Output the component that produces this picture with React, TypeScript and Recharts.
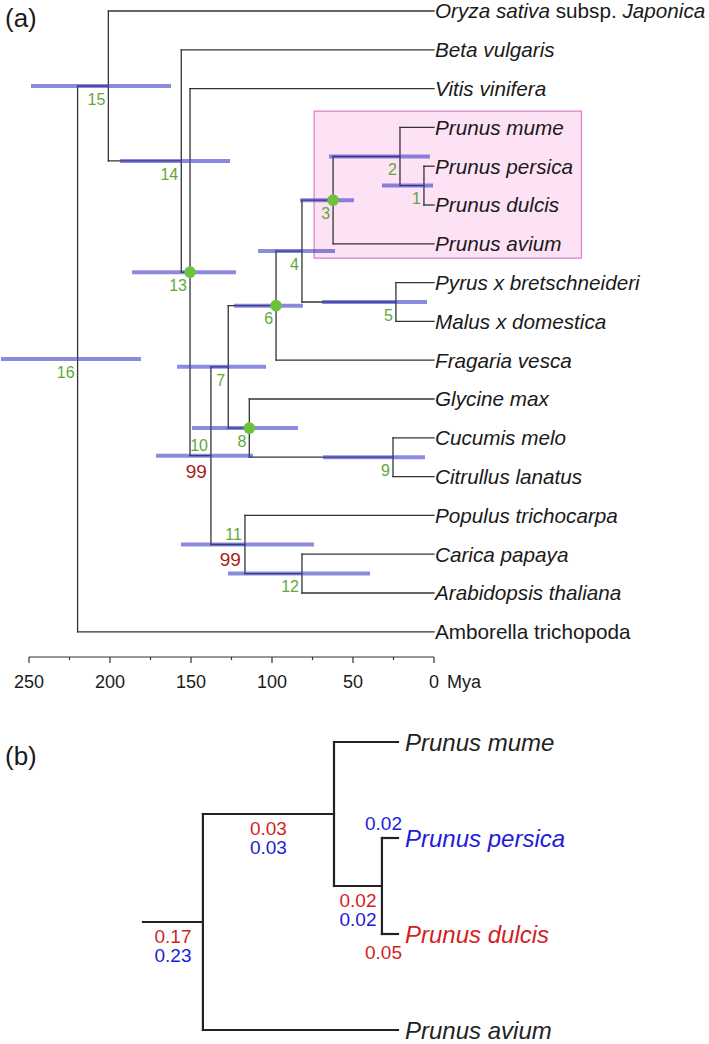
import React from "react";
import {
  ComposedChart, ReferenceArea, ReferenceLine, Scatter, XAxis, YAxis,
} from "recharts";

const FONT = "'Liberation Sans', Arial, Helvetica, sans-serif";

// ---- (a) dated tree ----
const tipNames = [
  "Oryza sativa subsp. Japonica", "Beta vulgaris", "Vitis vinifera",
  "Prunus mume", "Prunus persica", "Prunus dulcis", "Prunus avium",
  "Pyrus x bretschneideri", "Malus x domestica", "Fragaria vesca",
  "Glycine max", "Cucumis melo", "Citrullus lanatus", "Populus trichocarpa",
  "Carica papaya", "Arabidopsis thaliana", "Amborella trichopoda",
];
const uprightTips = ["Amborella trichopoda"];

const nodeIds = [1, 2, 3, 4, 5, 6, 7, 8, 9, 10, 11, 12, 13, 14, 15, 16];
const nodeAge = [6.2, 21, 62.3, 81.5, 23.5, 97.5, 127, 114, 25.3, 137.7, 116.7, 81.5, 150.6, 156, 201, 220];
const hpdOld = [32.1, 64.8, 82.7, 108.6, 69.1, 123.5, 158.6, 149.4, 68.5, 171.6, 156.2, 127.2, 186.4, 193.8, 248.8, 267.3];
const hpdYoung = [0.6, 2.5, 49.4, 61.1, 4.3, 80.9, 103.7, 84, 5.6, 111.7, 74.1, 39.5, 122.2, 125.9, 162.3, 180.9];
const nodeChildren: [string, string][] = [
  ["t4", "t5"], ["t3", "n1"], ["n2", "t6"], ["n3", "n5"], ["t7", "t8"], ["n4", "t9"],
  ["n6", "n8"], ["t10", "n9"], ["t11", "t12"], ["n7", "n11"], ["t13", "n12"], ["t14", "t15"],
  ["t2", "n10"], ["t1", "n13"], ["t0", "n14"], ["n15", "t16"],
];
const calibratedNodes = [3, 6, 8, 13];
const supportNodes = [10, 11];
const supportValues = [99, 99];
const ageTicks = [250, 225, 200, 175, 150, 125, 100, 75, 50, 25, 0];
const cladeAges = [74, -91];
const cladeRows = [2.58, 6.37];

// ---- (b) Prunus subtree ----
const bTipNames = ["Prunus mume", "Prunus persica", "Prunus dulcis", "Prunus avium"];
const bTipColors = ["#222", "#1c1cd8", "#d21f1f", "#222"];
const bNodeDepth = [0.235, 0.749, 0.937]; // m1 (root node), m2, m3
const bChildren: [string, string][] = [["m2", "t3"], ["t0", "m3"], ["t1", "t2"]];
const bRedLengths = [
  { branch: "stem", value: 0.17 }, { branch: "m2", value: 0.03 },
  { branch: "m3", value: 0.02 }, { branch: "t2", value: 0.05 },
];
const bBlueLengths = [
  { branch: "stem", value: 0.23 }, { branch: "m2", value: 0.03 },
  { branch: "m3", value: 0.02 }, { branch: "t1", value: 0.02 },
];

const RED = "#d21f1f";
const BLUE = "#1c1cd8";
const GREEN = "#5fa83a";

type Seg = { x1: number; y1: number; x2: number; y2: number };

function rowOf(ref: string): number {
  const n = Number(ref.slice(1));
  if (ref[0] === "t") return n;
  const [a, b] = nodeChildren[n - 1];
  return (rowOf(a) + rowOf(b)) / 2;
}
const ageOf = (ref: string) => (ref[0] === "t" ? 0 : nodeAge[Number(ref.slice(1)) - 1]);

const branchSegs: Seg[] = [];
nodeIds.forEach((id, i) => {
  const [a, b] = nodeChildren[i];
  branchSegs.push({ x1: nodeAge[i], y1: rowOf(a), x2: nodeAge[i], y2: rowOf(b) });
  [a, b].forEach((c) => branchSegs.push({ x1: nodeAge[i], y1: rowOf(c), x2: ageOf(c), y2: rowOf(c) }));
});

const tipLabelData = tipNames.map((name, i) => ({ x: 0, y: i, name }));
const nodeLabelData = nodeIds.map((id, i) => {
  const s = supportNodes.indexOf(id);
  return { x: nodeAge[i], y: rowOf("n" + id), id, support: s >= 0 ? supportValues[s] : null };
});
const dotData = calibratedNodes.map((id) => ({ x: nodeAge[id - 1], y: rowOf("n" + id) }));

function bRow(ref: string): number {
  const n = Number(ref.slice(1));
  if (ref[0] === "t") return n;
  const [a, b] = bChildren[n - 1];
  return (bRow(a) + bRow(b)) / 2;
}
const bDepth = (ref: string) => (ref[0] === "t" ? 1 : bNodeDepth[Number(ref.slice(1)) - 1]);
function bParent(ref: string): number {
  if (ref === "stem") return 0;
  const idx = bChildren.findIndex((c) => c.includes(ref));
  return bNodeDepth[idx];
}

const bSegs: Seg[] = [{ x1: 0, y1: bRow("m1"), x2: bNodeDepth[0], y2: bRow("m1") }];
bChildren.forEach(([a, b], i) => {
  const d = bNodeDepth[i];
  bSegs.push({ x1: d, y1: bRow(a), x2: d, y2: bRow(b) });
  [a, b].forEach((c) => bSegs.push({ x1: d, y1: bRow(c), x2: bDepth(c), y2: bRow(c) }));
});

const bTipData = bTipNames.map((name, i) => ({ x: 1, y: i, name, color: bTipColors[i] }));
const bLenData = [
  ...bRedLengths.map((l) => ({ ...l, color: RED })),
  ...bBlueLengths.map((l) => ({ ...l, color: BLUE })),
].map((l) => {
  const node = l.branch === "stem" ? "m1" : l.branch;
  const start = bParent(l.branch);
  const end = l.branch === "stem" ? bNodeDepth[0] : bDepth(node);
  const isTip = node[0] === "t";
  return { x: isTip ? end : (start + end) / 2, y: bRow(node), label: l.value.toFixed(2), color: l.color, isTip };
});

function AgeTick(props: any) {
  const { x, y, payload } = props;
  const v = payload.value as number;
  const major = v % 50 === 0;
  return (
    <g>
      <line x1={x} x2={x} y1={y} y2={y + (major ? 6 : 3)} stroke="#333" strokeWidth={1.2} />
      {major && (
        <text x={x} y={y + 31} textAnchor="middle" fontSize={18} fill="#1a1a1a" fontFamily={FONT}>{v}</text>
      )}
      {v === 0 && (
        <text x={x + 13} y={y + 31} textAnchor="start" fontSize={18} fill="#1a1a1a" fontFamily={FONT}>Mya</text>
      )}
    </g>
  );
}

function TipLabel(props: any) {
  const { cx, cy, payload } = props;
  const name: string = payload.name;
  const parts = name.split(" subsp. ");
  const italic = !uprightTips.includes(name);
  return (
    <text x={cx + 1} y={cy} dy="0.36em" fontSize={20.7} fill="#1a1a1a" fontFamily={FONT}
      style={{ whiteSpace: "pre" }} fontStyle={italic && parts.length === 1 ? "italic" : "normal"}>
      {parts.length === 2 ? (
        <>
          <tspan fontStyle="italic">{parts[0]}</tspan>
          <tspan> subsp. </tspan>
          <tspan fontStyle="italic">{parts[1]}</tspan>
        </>
      ) : name}
    </text>
  );
}

function NodeLabel(props: any) {
  const { cx, cy, payload } = props;
  const above = payload.support != null;
  return (
    <g fontFamily={FONT}>
      <text x={cx - 3} y={above ? cy - 10 : cy + 13} dy="0.36em" textAnchor="end" fontSize={16} fill={GREEN}>
        {payload.id}
      </text>
      {above && (
        <text x={cx - 4} y={cy + 15} dy="0.36em" textAnchor="end" fontSize={19} fill="#a81c1c">
          {payload.support}
        </text>
      )}
    </g>
  );
}

function Dot(props: any) {
  return <circle cx={props.cx} cy={props.cy} r={5.8} fill="#6cc23a" />;
}

function BTipLabel(props: any) {
  const { cx, cy, payload } = props;
  return (
    <text x={cx + 7} y={cy} dy="0.36em" fontSize={24} fontStyle="italic" fill={payload.color} fontFamily={FONT}>
      {payload.name}
    </text>
  );
}

function BLenLabel(props: any) {
  const { cx, cy, payload } = props;
  if (payload.isTip) {
    const up = payload.color === BLUE;
    return (
      <text x={cx + 4} y={up ? cy - 15 : cy + 18} dy="0.36em" textAnchor="end" fontSize={19}
        fill={payload.color} fontFamily={FONT}>{payload.label}</text>
    );
  }
  return (
    <text x={cx} y={payload.color === RED ? cy + 14 : cy + 33} dy="0.36em" textAnchor="middle" fontSize={19}
      fill={payload.color} fontFamily={FONT}>{payload.label}</text>
  );
}

const panelLabel = (top: number): React.CSSProperties => ({
  position: "absolute", left: 5, top, fontSize: 26, lineHeight: "26px", fontFamily: FONT, color: "#1a1a1a",
});

export default function App() {
  return (
    <div style={{ position: "absolute", left: 0, top: 0, width: 709, height: 1044, background: "#fff", fontFamily: FONT }}>
      <div style={{ position: "absolute", left: 0, top: 0 }}>
        <ComposedChart width={709} height={700} margin={{ top: 11, right: 275, bottom: 0, left: 29 }}>
          <XAxis type="number" dataKey="x" domain={[0, 250]} reversed ticks={ageTicks}
            interval={0} height={43} tickSize={0} tickMargin={0} tickLine={false}
            axisLine={{ stroke: "#333", strokeWidth: 1.2 }} tick={AgeTick} />
          <YAxis type="number" dataKey="y" domain={[0, 16.65]} reversed hide />
          <ReferenceArea x1={cladeAges[0]} x2={cladeAges[1]} y1={cladeRows[0]} y2={cladeRows[1]}
            ifOverflow="visible" fill="#fde2f6" fillOpacity={1} stroke="#d67fd0" strokeWidth={1.2} />
          {branchSegs.map((s, i) => (
            <ReferenceLine key={"b" + i} ifOverflow="visible" stroke="#333" strokeWidth={1.3} strokeLinecap="square"
              segment={[{ x: s.x1, y: s.y1 }, { x: s.x2, y: s.y2 }]} />
          ))}
          {nodeIds.map((id, i) => (
            <ReferenceLine key={"h" + id} ifOverflow="visible" stroke="#3c3ec5" strokeOpacity={0.6} strokeWidth={4}
              segment={[{ x: hpdOld[i], y: rowOf("n" + id) }, { x: hpdYoung[i], y: rowOf("n" + id) }]} />
          ))}
          <Scatter data={dotData} shape={Dot} isAnimationActive={false} />
          <Scatter data={nodeLabelData} shape={NodeLabel} isAnimationActive={false} />
          <Scatter data={tipLabelData} shape={TipLabel} isAnimationActive={false} />
        </ComposedChart>
      </div>
      <div style={panelLabel(5)}>(a)</div>

      <div style={{ position: "absolute", left: 0, top: 700 }}>
        <ComposedChart width={709} height={344} margin={{ top: 42, right: 311, bottom: 14, left: 143 }}>
          <XAxis type="number" dataKey="x" domain={[0, 1]} hide />
          <YAxis type="number" dataKey="y" domain={[0, 3]} reversed hide />
          {bSegs.map((s, i) => (
            <ReferenceLine key={"s" + i} ifOverflow="visible" stroke="#222" strokeWidth={2.2} strokeLinecap="square"
              segment={[{ x: s.x1, y: s.y1 }, { x: s.x2, y: s.y2 }]} />
          ))}
          <Scatter data={bTipData} shape={BTipLabel} isAnimationActive={false} />
          <Scatter data={bLenData} shape={BLenLabel} isAnimationActive={false} />
        </ComposedChart>
      </div>
      <div style={panelLabel(743)}>(b)</div>
    </div>
  );
}
